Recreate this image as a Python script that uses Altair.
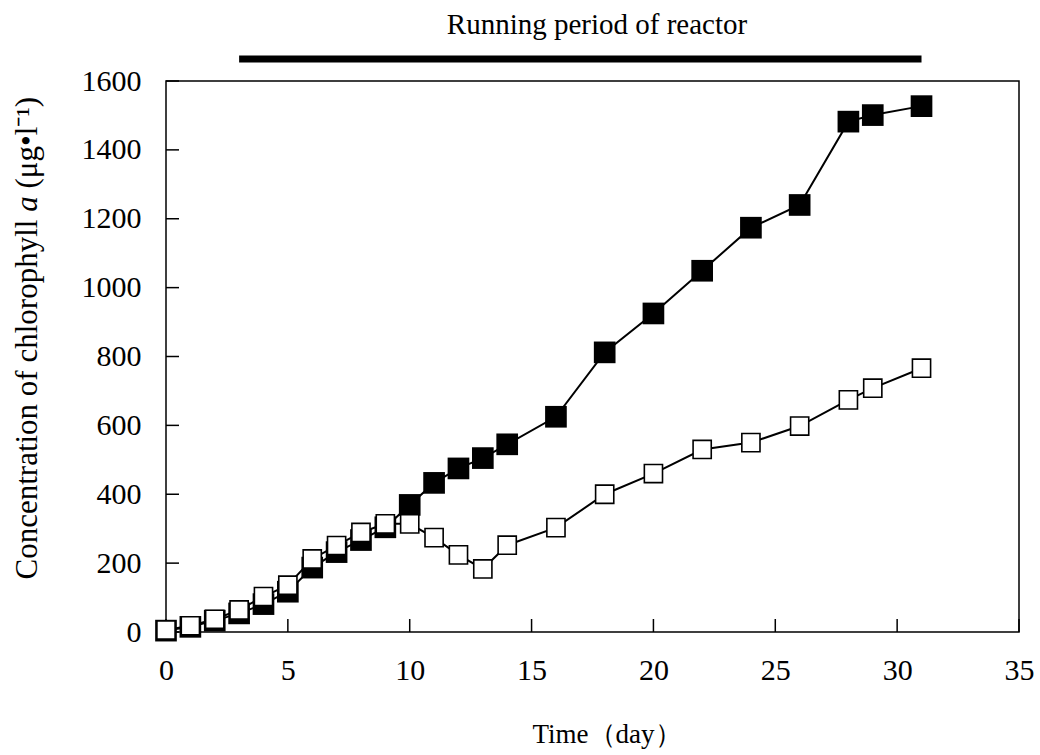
import altair as alt
import pandas as pd

# ---- data ----
days = [0, 1, 2, 3, 4, 5, 6, 7, 8, 9, 10, 11, 12, 13, 14, 16, 18, 20, 22, 24, 26, 28, 29, 31]
open_vals = [6, 18, 37, 64, 103, 136, 212, 251, 289, 314, 314, 274, 224, 183, 252,
             303, 400, 460, 530, 550, 598, 674, 708, 766]
filled_vals = [4, 15, 33, 54, 81, 117, 187, 232, 267, 304, 369, 433, 475, 505, 545,
               625, 812, 925, 1049, 1174, 1240, 1482, 1501, 1527]
x_ticks = [0, 5, 10, 15, 20, 25, 30, 35]
y_ticks = [0, 200, 400, 600, 800, 1000, 1200, 1400, 1600]
period_start = [3]
period_end = [31]
top_label = ["Running period of reactor"]
x_title = ["Time（day）"]
y_title_parts = ["Concentration of chlorophyll", "a", "(μg•l⁻¹)"]

FONT = "Liberation Serif"
W, H = 853, 551

df_open = pd.DataFrame({"day": days, "value": open_vals})
df_filled = pd.DataFrame({"day": days, "value": filled_vals})
df_xt = pd.DataFrame({"t": x_ticks})
df_yt = pd.DataFrame({"t": y_ticks})
df_period = pd.DataFrame({"start": period_start, "end": period_end})

x_scale = alt.Scale(domain=[0, 35], nice=False, zero=False)
y_scale = alt.Scale(domain=[0, 1600], nice=False)

x_axis = alt.Axis(values=x_ticks, title=None, grid=False, ticks=False, domain=False,
                  tickSize=0, labelFont=FONT, labelFontSize=30, labelColor="black",
                  labelPadding=38, labelBaseline="middle", labelFlush=False,
                  labelOverlap=False, format="d")
y_axis = alt.Axis(values=y_ticks, title=None, grid=False, ticks=False, domain=False,
                  tickSize=0, labelFont=FONT, labelFontSize=30, labelColor="black",
                  labelPadding=25, labelFlush=False, labelOverlap=False, format="d")


def X(field):
    return alt.X(field, scale=x_scale, axis=x_axis)


def Y(field):
    return alt.Y(field, scale=y_scale, axis=y_axis)


filled_line = alt.Chart(df_filled).mark_line(color="black", strokeWidth=2).encode(
    x=X("day:Q"), y=Y("value:Q"))
filled_pts = alt.Chart(df_filled).mark_point(
    shape="square", filled=True, fill="black", stroke="black", strokeWidth=0,
    size=470, opacity=1, fillOpacity=1).encode(x=X("day:Q"), y=Y("value:Q"))
open_line = alt.Chart(df_open).mark_line(color="black", strokeWidth=2).encode(
    x=X("day:Q"), y=Y("value:Q"))
open_pts = alt.Chart(df_open).mark_point(
    shape="square", filled=True, fill="white", stroke="black", strokeWidth=1.6,
    size=330, opacity=1, fillOpacity=1).encode(x=X("day:Q"), y=Y("value:Q"))

x_tick_marks = alt.Chart(df_xt).mark_rule(color="black", strokeWidth=1.5).encode(
    x=X("t:Q"), y=alt.value(H), y2=alt.value(H - 13))
y_tick_marks = alt.Chart(df_yt).mark_rule(color="black", strokeWidth=1.5).encode(
    y=Y("t:Q"), x=alt.value(0), x2=alt.value(13))

period_bar = alt.Chart(df_period).mark_rule(color="black", strokeWidth=7, strokeCap="butt").encode(
    x=X("start:Q"), x2="end:Q", y=alt.value(-22))

top_text = alt.Chart(pd.DataFrame({"t": top_label})).mark_text(
    font=FONT, fontSize=29, color="black", align="center", baseline="middle").encode(
    text="t:N", x=alt.value(431), y=alt.value(-56))

xt_text = alt.Chart(pd.DataFrame({"t": x_title})).mark_text(
    font=FONT, fontSize=27, color="black", align="center", baseline="middle").encode(
    text="t:N", x=alt.value(441), y=alt.value(654))

y_pos = [498.5, 130.8, 107.5]
y_styles = ["normal", "italic", "normal"]
y_texts = []
for part, yp, st in zip(y_title_parts, y_pos, y_styles):
    y_texts.append(
        alt.Chart(pd.DataFrame({"t": [part]})).mark_text(
            font=FONT, fontSize=31, color="black", align="left", baseline="middle",
            angle=270, fontStyle=st).encode(
            text="t:N", x=alt.value(-138), y=alt.value(yp)))

chart = alt.layer(
    x_tick_marks, y_tick_marks, filled_line, filled_pts, open_line, open_pts,
    period_bar, top_text, xt_text, *y_texts
).properties(
    width=W, height=H,
    autosize=alt.AutoSizeParams(type="none"),
    padding={"left": 166, "top": 81, "right": 21, "bottom": 123},
    background="white",
).configure_view(stroke="black", strokeWidth=1.5)

chart.save("out.html", embed_options={"renderer": "svg", "actions": False})
